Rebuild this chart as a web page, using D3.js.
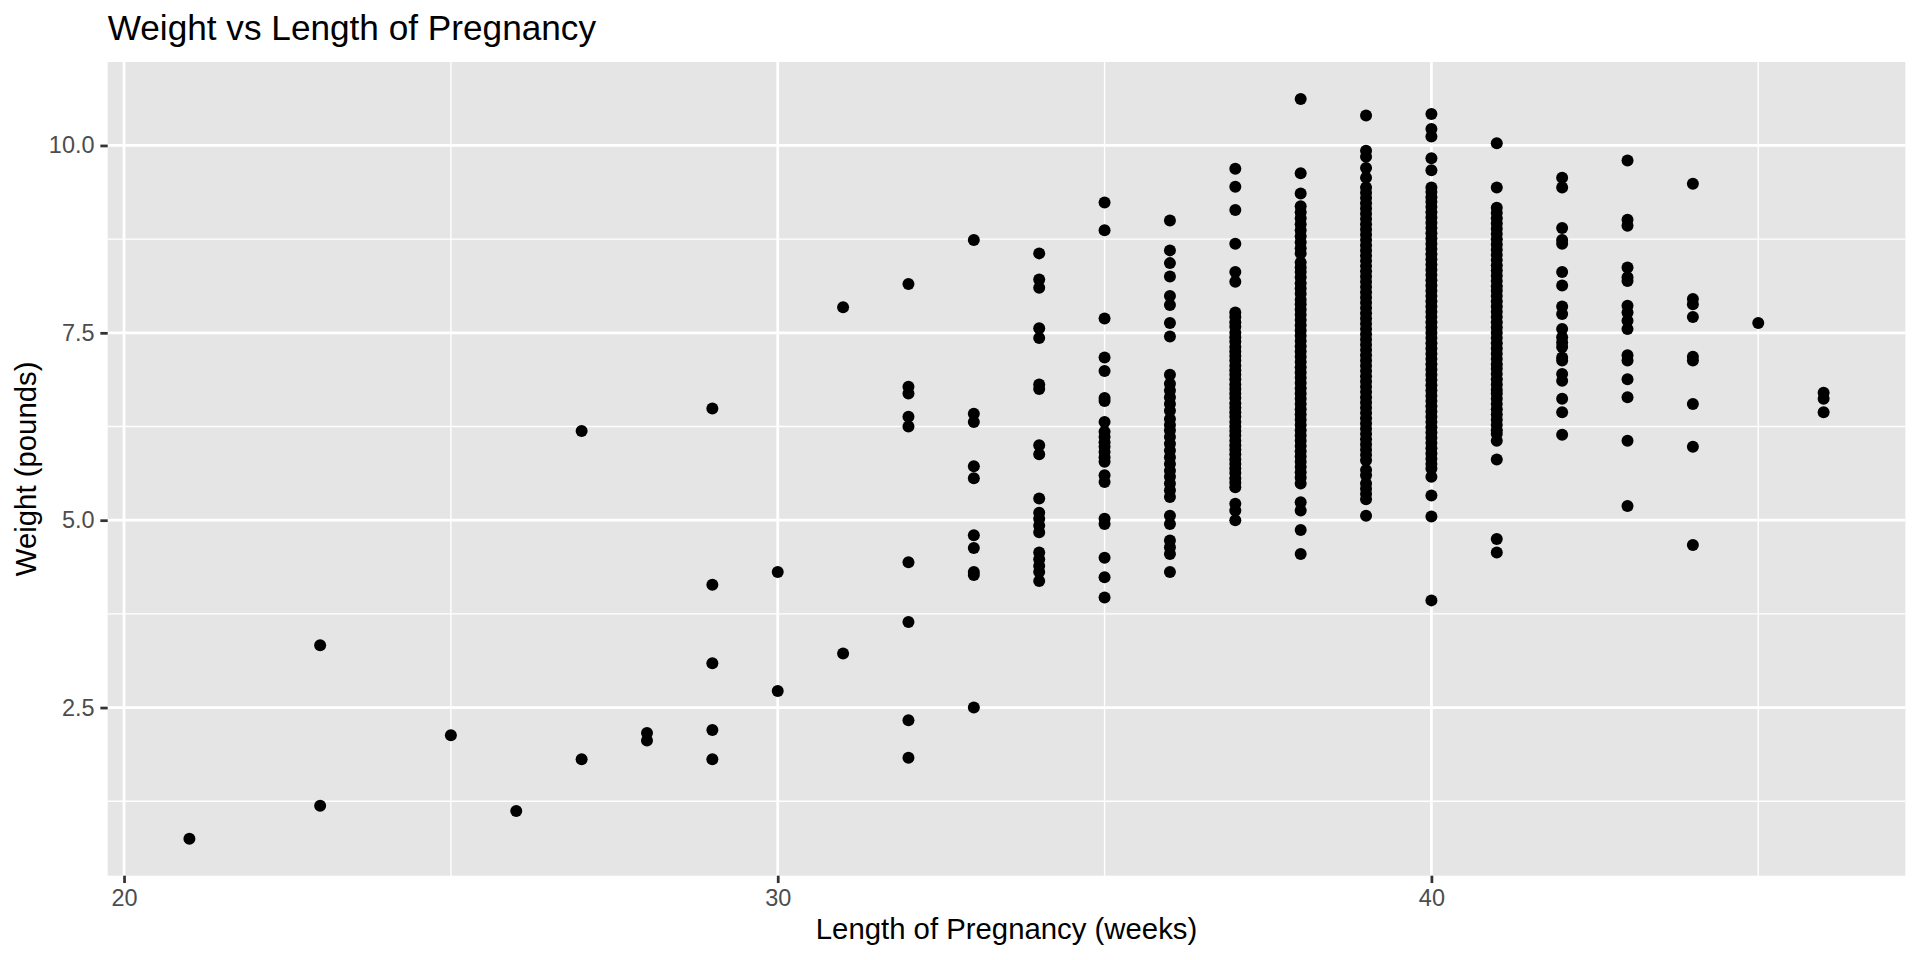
<!DOCTYPE html>
<html>
<head>
<meta charset="utf-8">
<script src="https://cdn.jsdelivr.net/npm/d3@7"></script>
<style>
  html, body { margin: 0; padding: 0; background: #ffffff; }
  svg { display: block; font-family: "Liberation Sans", Arial, Helvetica, sans-serif; }
</style>
</head>
<body>
<svg id="chart" width="1920" height="960"></svg>
<script>
// ---------------- data ----------------
const chartTitle = "Weight vs Length of Pregnancy";
const xTitle = "Length of Pregnancy (weeks)";
const yTitle = "Weight (pounds)";

const xMajorTicks = [20, 30, 40];
const xMinorTicks = [25, 35, 45];
const yMajorTicks = [2.5, 5.0, 7.5, 10.0];
const yMinorTicks = [1.25, 3.75, 6.25, 8.75];

const weeks = [21, 23, 25, 26, 27, 28, 29, 30, 31, 32, 33, 34, 35, 36, 37, 38, 39, 40, 41, 42, 43, 44, 45, 46];

const weights = [
  [0.75],
  [3.33, 1.19],
  [2.13],
  [1.12],
  [6.19, 1.81],
  [2.16, 2.06],
  [6.49, 4.14, 3.09, 2.20, 1.81],
  [4.31, 2.72],
  [7.84, 3.22],
  [8.15, 6.78, 6.69, 6.38, 6.25, 4.44, 3.64, 2.33, 1.83],
  [8.74, 6.42, 6.31, 5.72, 5.56, 4.80, 4.63, 4.31, 4.27, 2.50],
  [8.56, 8.21, 8.10, 7.56, 7.43, 6.81, 6.75, 6.00, 5.88, 5.29, 5.10, 5.02, 4.93, 4.84, 4.57, 4.48, 4.39, 4.31, 4.19],
  [9.24, 8.87, 7.69, 7.17, 6.99, 6.63, 6.59, 6.31, 6.18, 6.11, 6.04, 5.98, 5.91, 5.84, 5.78, 5.60, 5.51, 5.02, 4.95, 4.50, 4.24, 3.97],
  [9.00, 8.60, 8.43, 8.25, 7.99, 7.87, 7.63, 7.45, 6.94, 6.82, 6.73, 6.64, 6.55, 6.46, 6.35, 6.27, 6.20, 6.11, 6.02, 5.93, 5.84, 5.75, 5.66, 5.58, 5.49, 5.40, 5.31, 5.06, 4.95, 4.73, 4.64, 4.55, 4.31],
  [9.69, 9.45, 9.14, 8.69, 8.31, 8.18, 7.77, 7.71, 7.64, 7.58, 7.50, 7.44, 7.38, 7.31, 7.25, 7.19, 7.13, 7.06, 7.00, 6.94, 6.88, 6.81, 6.75, 6.69, 6.63, 6.56, 6.50, 6.44, 6.38, 6.31, 6.25, 6.19, 6.13, 6.06, 6.00, 5.94, 5.88, 5.81, 5.75, 5.69, 5.63, 5.56, 5.50, 5.44, 5.22, 5.13, 5.00],
  [10.62, 9.63, 9.36, 9.19, 9.11, 9.03, 8.95, 8.87, 8.79, 8.71, 8.63, 8.56, 8.44, 8.37, 8.31, 8.24, 8.16, 8.09, 8.02, 7.94, 7.88, 7.81, 7.74, 7.67, 7.60, 7.53, 7.46, 7.39, 7.32, 7.25, 7.18, 7.11, 7.04, 6.97, 6.90, 6.83, 6.76, 6.69, 6.62, 6.55, 6.48, 6.41, 6.34, 6.27, 6.20, 6.13, 6.06, 5.99, 5.92, 5.85, 5.78, 5.71, 5.64, 5.57, 5.49, 5.24, 5.13, 4.87, 4.55],
  [10.40, 9.93, 9.85, 9.70, 9.57, 9.44, 9.37, 9.30, 9.23, 9.16, 9.09, 9.02, 8.95, 8.88, 8.81, 8.74, 8.67, 8.60, 8.53, 8.46, 8.39, 8.32, 8.25, 8.18, 8.11, 8.04, 7.97, 7.90, 7.83, 7.76, 7.69, 7.62, 7.55, 7.48, 7.41, 7.34, 7.27, 7.20, 7.13, 7.06, 6.99, 6.92, 6.85, 6.78, 6.71, 6.64, 6.57, 6.50, 6.43, 6.36, 6.29, 6.22, 6.15, 6.08, 6.01, 5.94, 5.87, 5.80, 5.67, 5.60, 5.49, 5.42, 5.35, 5.28, 5.06],
  [10.42, 10.22, 10.12, 9.83, 9.67, 9.44, 9.38, 9.31, 9.25, 9.18, 9.11, 9.04, 8.97, 8.90, 8.83, 8.76, 8.69, 8.62, 8.55, 8.48, 8.41, 8.34, 8.27, 8.20, 8.13, 8.06, 7.99, 7.92, 7.85, 7.78, 7.71, 7.64, 7.57, 7.50, 7.43, 7.36, 7.29, 7.22, 7.15, 7.08, 7.01, 6.94, 6.87, 6.80, 6.73, 6.66, 6.59, 6.52, 6.45, 6.38, 6.31, 6.24, 6.17, 6.10, 6.03, 5.96, 5.89, 5.82, 5.75, 5.69, 5.58, 5.33, 5.05, 3.93],
  [10.03, 9.44, 9.17, 9.10, 9.03, 8.96, 8.89, 8.82, 8.75, 8.68, 8.61, 8.54, 8.47, 8.40, 8.33, 8.26, 8.19, 8.12, 8.06, 7.99, 7.92, 7.85, 7.78, 7.71, 7.64, 7.57, 7.50, 7.43, 7.36, 7.29, 7.22, 7.15, 7.08, 7.02, 6.95, 6.88, 6.81, 6.74, 6.69, 6.62, 6.55, 6.48, 6.41, 6.34, 6.27, 6.20, 6.15, 6.06, 5.81, 4.75, 4.57],
  [9.57, 9.44, 8.90, 8.74, 8.69, 8.31, 8.13, 7.85, 7.75, 7.55, 7.44, 7.37, 7.31, 7.17, 7.13, 6.95, 6.86, 6.62, 6.44, 6.14],
  [9.80, 9.01, 8.93, 8.37, 8.24, 8.19, 7.86, 7.77, 7.66, 7.55, 7.20, 7.13, 6.88, 6.64, 6.06, 5.19],
  [9.49, 7.95, 7.88, 7.71, 7.18, 7.13, 6.55, 5.98, 4.67],
  [7.63],
  [6.70, 6.62, 6.44]
];

// ---------------- layout ----------------
const W = 1920, H = 960;
const PT = 192 / 72;                 // px per point (ggplot at 192 dpi)
const panel = { left: 107.7, right: W - 5.5 * PT, top: 62, bottom: 875.7 };

const points = weeks.flatMap((wk, i) => weights[i].map(v => ({ week: wk, weight: v })));

function expand(ext, f) {
  const d = (ext[1] - ext[0]) * f;
  return [ext[0] - d, ext[1] + d];
}

const x = d3.scaleLinear()
  .domain(expand(d3.extent(points, d => d.week), 0.05))
  .range([panel.left, panel.right]);
const y = d3.scaleLinear()
  .domain(expand(d3.extent(points, d => d.weight), 0.05))
  .range([panel.bottom, panel.top]);

const svg = d3.select("#chart");

// panel background
svg.append("rect")
  .attr("x", panel.left).attr("y", panel.top)
  .attr("width", panel.right - panel.left)
  .attr("height", panel.bottom - panel.top)
  .attr("fill", "#E5E5E5");

const grid = svg.append("g");
const majorW = 2.75, minorW = 1.4;

grid.selectAll("line.ymin").data(yMinorTicks).join("line")
  .attr("x1", panel.left).attr("x2", panel.right)
  .attr("y1", d => y(d)).attr("y2", d => y(d))
  .attr("stroke", "#fff").attr("stroke-width", minorW);
grid.selectAll("line.xmin").data(xMinorTicks).join("line")
  .attr("y1", panel.top).attr("y2", panel.bottom)
  .attr("x1", d => x(d)).attr("x2", d => x(d))
  .attr("stroke", "#fff").attr("stroke-width", minorW);
grid.selectAll("line.ymaj").data(yMajorTicks).join("line")
  .attr("x1", panel.left).attr("x2", panel.right)
  .attr("y1", d => y(d)).attr("y2", d => y(d))
  .attr("stroke", "#fff").attr("stroke-width", majorW);
grid.selectAll("line.xmaj").data(xMajorTicks).join("line")
  .attr("y1", panel.top).attr("y2", panel.bottom)
  .attr("x1", d => x(d)).attr("x2", d => x(d))
  .attr("stroke", "#fff").attr("stroke-width", majorW);

// points
svg.append("g").selectAll("circle").data(points).join("circle")
  .attr("cx", d => x(d.week))
  .attr("cy", d => y(d.weight))
  .attr("r", 6)
  .attr("fill", "#000");

// axes
const tickLen = 2.75 * PT, tickPad = 2.2 * PT;
const xAxis = d3.axisBottom(x).tickValues(xMajorTicks).tickFormat(d3.format("d"))
  .tickSize(tickLen).tickPadding(tickPad);
const yAxis = d3.axisLeft(y).tickValues(yMajorTicks).tickFormat(d3.format(".1f"))
  .tickSize(tickLen).tickPadding(tickPad);

function styleAxis(g) {
  g.select(".domain").remove();
  g.selectAll(".tick line").attr("stroke", "#333333").attr("stroke-width", majorW);
  g.selectAll(".tick text")
    .attr("fill", "#4D4D4D")
    .style("font-size", (8.8 * PT) + "px")
    .style("font-family", "'Liberation Sans', Arial, sans-serif");
}
svg.append("g").attr("transform", `translate(0,${panel.bottom})`).call(xAxis).call(styleAxis);
svg.append("g").attr("transform", `translate(${panel.left},0)`).call(yAxis).call(styleAxis);

// titles
svg.append("text")
  .attr("x", panel.left).attr("y", 40)
  .attr("fill", "#000")
  .style("font-size", (13.2 * PT) + "px")
  .text(chartTitle);

svg.append("text")
  .attr("x", (panel.left + panel.right) / 2).attr("y", 939)
  .attr("text-anchor", "middle")
  .attr("fill", "#000")
  .style("font-size", (11 * PT) + "px")
  .text(xTitle);

svg.append("text")
  .attr("transform", `translate(36,${(panel.top + panel.bottom) / 2}) rotate(-90)`)
  .attr("text-anchor", "middle")
  .attr("fill", "#000")
  .style("font-size", (11 * PT) + "px")
  .text(yTitle);
</script>
</body>
</html>
